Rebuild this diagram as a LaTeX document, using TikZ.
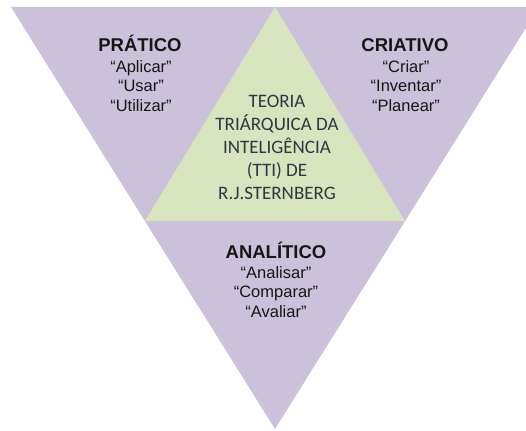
\documentclass[tikz,border=0pt]{standalone}
\usepackage{fontspec}
\setmainfont{Liberation Sans}
\newfontfamily\calib{Carlito}
\definecolor{lav}{HTML}{CCC1DA}
\definecolor{sage}{HTML}{D7E4BD}
\definecolor{slate}{HTML}{2B3A42}
\definecolor{ink}{HTML}{161616}
\begin{document}
\begin{tikzpicture}[x=1pt,y=-1pt,
  title/.style={font=\fontsize{18.5}{20}\selectfont\bfseries, text=ink, inner sep=0, anchor=base},
  words/.style={font=\fontsize{16.5}{19.5}\selectfont, text=ink, align=center, inner sep=0, anchor=north},
  core/.style={font=\calib\fontsize{19}{23}\selectfont, text=slate, align=center, inner sep=0, anchor=north}]
\useasboundingbox (0,0) rectangle (526,430);
\clip (0,0) rectangle (526,430);
\coordinate (tl) at (11,7);
\coordinate (tr) at (539,7);
\coordinate (bt) at (275,429);
\coordinate (gt) at (275,7);
\coordinate (gl) at (145,221);
\coordinate (gr) at (405,221);
\fill[lav] (tl) -- (tr) -- (bt) -- cycle;
\fill[sage] (gt) -- (gl) -- (gr) -- cycle;
\node[title] (pt) at (140,52) {PRÁTICO};
\node[words] (pw) at (141,60) {“Aplicar”\\“Usar”\\“Utilizar”};
\node[title] (ct) at (405,52) {CRIATIVO};
\node[words] (cw) at (406,60) {“Criar”\\“Inventar”\\“Planear”};
\node[title] (at) at (276,258) {ANALÍTICO};
\node[words] (aw) at (276,266) {“Analisar”\\“Comparar”\\“Avaliar”};
\node[core] (tti) at (277,94.7) {TEORIA\\TRIÁRQUICA DA\\INTELIGÊNCIA\\(TTI) DE\\R.J.STERNBERG};
\end{tikzpicture}
\end{document}
